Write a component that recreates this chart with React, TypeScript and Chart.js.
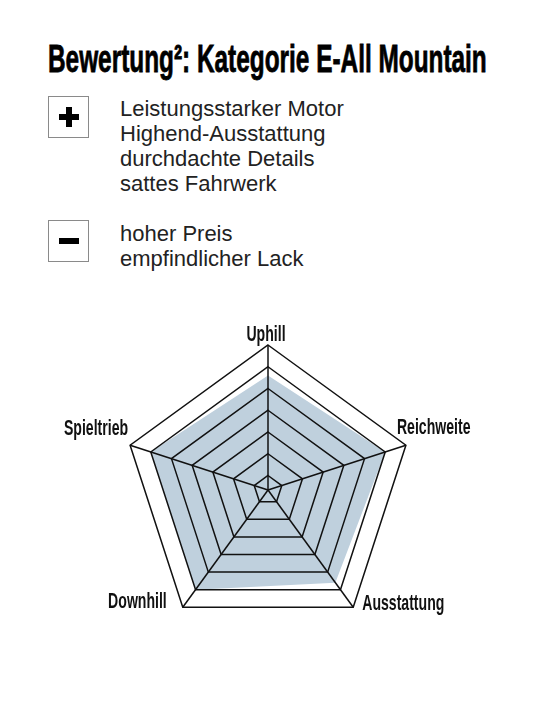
import React, { useEffect, useRef } from "react";
import { Chart, registerables } from "chart.js";

Chart.register(...registerables);

const categories = ["Uphill", "Reichweite", "Ausstattung", "Downhill", "Spieltrieb"];
const scores = [7.9, 8.5, 7.9, 8.5, 8.5];
const ringTicks = [0, 1, 2.5, 4, 5.5, 7, 8.5, 10];
const pros = ["Leistungsstarker Motor", "Highend-Ausstattung", "durchdachte Details", "sattes Fahrwerk"];
const cons = ["hoher Preis", "empfindlicher Lack"];

// where each axis label sits relative to the outer vertex
const labelPlacement: { dx: number; dy: number; align: CanvasTextAlign }[] = [
  { dx: -2, dy: -4, align: "center" },
  { dx: -9, dy: -11, align: "left" },
  { dx: 9, dy: 3, align: "left" },
  { dx: -16, dy: 1, align: "right" },
  { dx: -2, dy: -10, align: "right" }
];

const axisLabels = {
  id: "axisLabels",
  afterDraw(chart: any) {
    const scale = chart.scales.r;
    const ctx = chart.ctx as CanvasRenderingContext2D;
    ctx.save();
    ctx.font = "bold 22px 'Liberation Sans', Arial, sans-serif";
    ctx.fillStyle = "#111";
    ctx.textBaseline = "alphabetic";
    (chart.data.labels as string[]).forEach((label, i) => {
      const p = scale.getPointPositionForValue(i, scale.max);
      const o = labelPlacement[i];
      ctx.save();
      ctx.translate(p.x + o.dx, p.y + o.dy);
      ctx.scale(0.64, 1);
      ctx.textAlign = o.align;
      ctx.fillText(label, 0, 0);
      ctx.restore();
    });
    ctx.restore();
  }
};

function RatingRadar() {
  const canvasRef = useRef<HTMLCanvasElement | null>(null);
  useEffect(() => {
    if (!canvasRef.current) return;
    const chart = new Chart(canvasRef.current, {
      type: "radar",
      data: {
        labels: categories,
        datasets: [
          {
            data: scores,
            backgroundColor: "#bfd0dd",
            borderWidth: 0,
            pointRadius: 0,
            fill: true
          }
        ]
      },
      options: {
        responsive: false,
        animation: false,
        layout: { padding: { left: 123, right: 130, top: 45, bottom: 55 } },
        plugins: { legend: { display: false }, tooltip: { enabled: false } },
        scales: {
          r: {
            min: 0,
            max: 10,
            afterBuildTicks: (s: any) => {
              s.ticks = ringTicks.map((v) => ({ value: v }));
            },
            ticks: { display: false },
            grid: { color: "#111", lineWidth: 1.5, z: 1 } as any,
            angleLines: { color: "#111", lineWidth: 1.5 },
            pointLabels: { display: false }
          }
        }
      },
      plugins: [axisLabels]
    });
    return () => chart.destroy();
  }, []);

  return <canvas ref={canvasRef} width={543} height={390} style={{ width: 543, height: 390 }} />;
}

const textFont = "'Liberation Sans', Arial, sans-serif";

function Sign({ top, plus }: { top: number; plus: boolean }) {
  return (
    <div
      style={{
        position: "absolute",
        left: 48,
        top,
        width: 41,
        height: 42,
        boxSizing: "border-box",
        border: "1px solid #8a8a8a"
      }}
    >
      <div style={{ position: "absolute", left: 10, top: 17, width: 20, height: 6, background: "#000" }} />
      {plus && <div style={{ position: "absolute", left: 17, top: 10, width: 6, height: 20, background: "#000" }} />}
    </div>
  );
}

function List({ top, items }: { top: number; items: string[] }) {
  return (
    <div
      style={{
        position: "absolute",
        left: 120,
        top,
        fontFamily: textFont,
        fontSize: 22,
        lineHeight: "25px",
        color: "#222"
      }}
    >
      {items.map((t) => (
        <div key={t}>{t}</div>
      ))}
    </div>
  );
}

export default function App() {
  return (
    <div style={{ position: "absolute", left: 0, top: 0, width: 543, height: 720, background: "#fff", overflow: "hidden" }}>
      <div
        style={{
          position: "absolute",
          left: 48,
          top: 39,
          fontFamily: textFont,
          fontWeight: 700,
          fontSize: 39,
          lineHeight: "39px",
          whiteSpace: "nowrap",
          transform: "scaleX(0.625)",
          transformOrigin: "left top",
          WebkitTextStroke: "0.8px #000",
          color: "#000"
        }}
      >
        Bewertung²: Kategorie E-All Mountain
      </div>
      <Sign top={96} plus={true} />
      <List top={96} items={pros} />
      <Sign top={220} plus={false} />
      <List top={221} items={cons} />
      <div style={{ position: "absolute", left: 0, top: 300 }}>
        <RatingRadar />
      </div>
    </div>
  );
}
